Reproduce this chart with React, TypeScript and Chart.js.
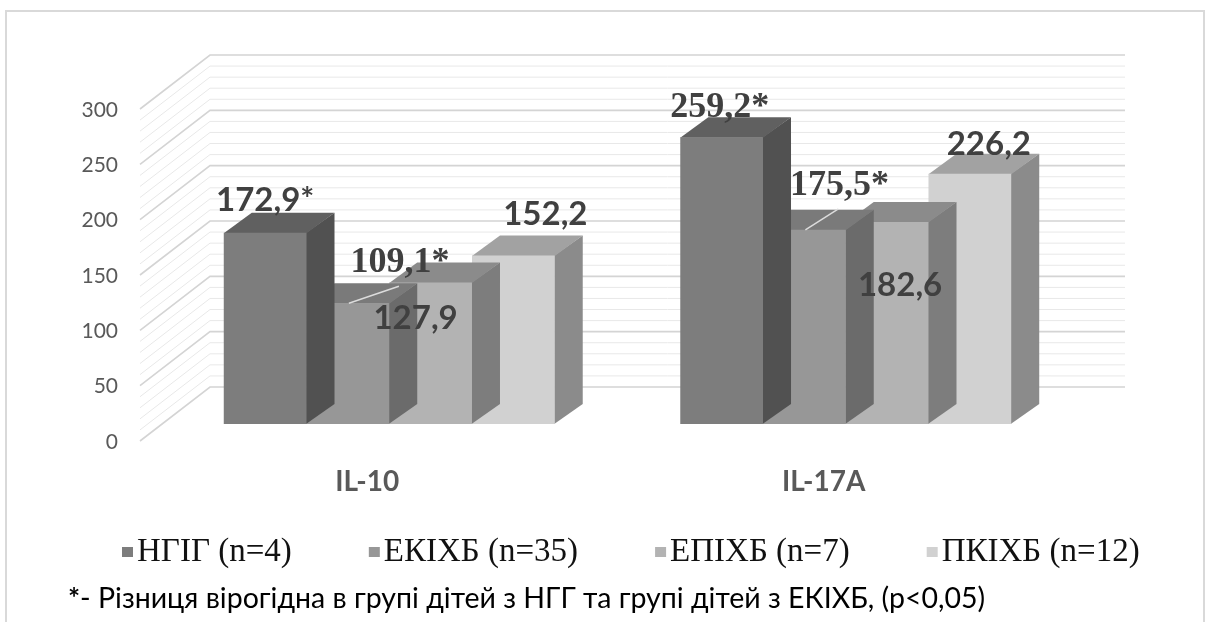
import { useEffect, useRef } from "react";
import { Chart, registerables } from "chart.js";

Chart.register(...registerables);

// ---------- data ----------
const CATEGORIES = ["IL-10", "IL-17A"];
const SERIES_NAMES = ["НГІГ (n=4)", "ЕКІХБ (n=35)", "ЕПІХБ (n=7)", "ПКІХБ (n=12)"];
const NGIG = [172.9, 259.2];
const EKIXB = [109.1, 175.5];
const EPIXB = [127.9, 182.6];
const PKIXB = [152.2, 226.2];
const SIGNIFICANT = [
  [true, true],
  [true, true],
  [false, false],
  [false, false],
];
const Y_MIN = 0;
const Y_MAX = 300;
const Y_STEP = 50;
const Y_MINOR_STEP = 10;
const FOOTNOTE_MARK = "*";
const FOOTNOTE_TEXT = "- Різниця вірогідна в групі дітей з НГГ та групі дітей з ЕКІХБ, (p<0,05)";

// ---------- styles ----------
const FRONT = ["#7d7d7d", "#979797", "#b3b3b3", "#d1d1d1"];
const TOP = ["#606060", "#7a7a7a", "#8b8b8b", "#a2a2a2"];
const SIDE = ["#515151", "#6b6b6b", "#7d7d7d", "#8b8b8b"];
const LABEL_SERIF = [
  [false, true],
  [true, true],
  [false, false],
  [false, false],
];
const LABEL_OFFSETS = [
  [[0, -22], [-2, -20]],
  [[52, -31], [35, -35]],
  [[-15, 47], [13, 74]],
  [[32, -31], [19, -19]],
];
const LEADER = [
  [false, false],
  [true, true],
  [false, false],
  [false, false],
];
const DEPTH_X = 28;
const DEPTH_Y = 20;
const WALL_FRONT_X = 140;
const WALL_BACK_X = 210;
const WALL_RIGHT_X = 1125;
const WALL_FRONT_DY = 17;
const WALL_BACK_DY = -37;
const SANS = "Lato";
const SERIF = '"Liberation Serif"';

const fmt = (v: number, sig: boolean) => v.toFixed(1).replace(".", ",") + (sig ? "*" : "");

const bar3d = {
  id: "bar3d",
  beforeDatasetsDraw(chart: any) {
    const ctx = chart.ctx;
    const ys = chart.scales.y;
    ctx.save();
    for (let v = Y_MIN; v <= Y_MAX; v += Y_MINOR_STEP) {
      const p = ys.getPixelForValue(v);
      const major = v % Y_STEP === 0;
      ctx.strokeStyle = major ? "#d4d4d4" : "#e8e8e8";
      ctx.lineWidth = major ? 1.6 : 1;
      ctx.beginPath();
      ctx.moveTo(WALL_FRONT_X, p + WALL_FRONT_DY);
      ctx.lineTo(WALL_BACK_X, p + WALL_BACK_DY);
      ctx.lineTo(WALL_RIGHT_X, p + WALL_BACK_DY);
      ctx.stroke();
    }
    ctx.restore();
  },
  beforeDatasetDraw(chart: any, args: any) {
    const ctx = chart.ctx;
    const i = args.index;
    ctx.save();
    args.meta.data.forEach((bar: any) => {
      const { x, y, base, width } = bar.getProps(["x", "y", "base", "width"], true);
      const l = x - width / 2;
      const r = x + width / 2;
      ctx.fillStyle = SIDE[i];
      ctx.beginPath();
      ctx.moveTo(r - 0.5, y);
      ctx.lineTo(r + DEPTH_X, y - DEPTH_Y);
      ctx.lineTo(r + DEPTH_X, base - DEPTH_Y);
      ctx.lineTo(r - 0.5, base);
      ctx.closePath();
      ctx.fill();
      ctx.fillStyle = TOP[i];
      ctx.beginPath();
      ctx.moveTo(l, y + 0.5);
      ctx.lineTo(r, y + 0.5);
      ctx.lineTo(r + DEPTH_X, y - DEPTH_Y);
      ctx.lineTo(l + DEPTH_X, y - DEPTH_Y);
      ctx.closePath();
      ctx.fill();
    });
    ctx.restore();
  },
  afterDatasetsDraw(chart: any) {
    const ctx = chart.ctx;
    ctx.save();
    chart.data.datasets.forEach((ds: any, i: number) => {
      const meta = chart.getDatasetMeta(i);
      meta.data.forEach((bar: any, j: number) => {
        const { x, y } = bar.getProps(["x", "y"], true);
        const [dx, dy] = LABEL_OFFSETS[i][j];
        const cx = x + dx;
        const by = y + dy;
        if (LEADER[i][j]) {
          ctx.strokeStyle = "#dcdcdc";
          ctx.lineWidth = 1.5;
          ctx.beginPath();
          ctx.moveTo(x + 1, y);
          ctx.lineTo(cx - 1, by + 14);
          ctx.stroke();
        }
        ctx.fillStyle = "#404040";
        ctx.textAlign = "center";
        ctx.textBaseline = "alphabetic";
        ctx.font = LABEL_SERIF[i][j] ? `bold 36px ${SERIF}` : `bold 33px ${SANS}`;
        ctx.fillText(fmt(ds.data[j], SIGNIFICANT[i][j]), cx, by);
      });
    });
    ctx.restore();
  },
  afterDraw(chart: any) {
    const ctx = chart.ctx;
    ctx.save();
    // outer frame
    ctx.strokeStyle = "#d9d9d9";
    ctx.lineWidth = 2;
    ctx.strokeRect(6, 11, 1198, 700);
    // legend
    ctx.font = `33px ${SERIF}`;
    ctx.textAlign = "left";
    ctx.textBaseline = "alphabetic";
    let lx = 122;
    chart.data.datasets.forEach((ds: any, i: number) => {
      ctx.fillStyle = FRONT[i];
      ctx.fillRect(lx, 547, 11, 10);
      ctx.fillStyle = "#111111";
      ctx.fillText(ds.label, lx + 15, 561);
      lx += 15 + ctx.measureText(ds.label).width + 77;
    });
    // footnote
    ctx.fillStyle = "#000000";
    ctx.font = `bold 28.5px ${SANS}`;
    ctx.fillText(FOOTNOTE_MARK, 68, 608);
    const w = ctx.measureText(FOOTNOTE_MARK).width;
    ctx.font = `28.5px ${SANS}`;
    ctx.fillText(FOOTNOTE_TEXT, 68 + w, 608);
    ctx.restore();
  },
};

export default function App() {
  const ref = useRef<HTMLCanvasElement | null>(null);
  useEffect(() => {
    document.body.style.margin = "0";
    const canvas = ref.current;
    if (!canvas) return;
    const series = [NGIG, EKIXB, EPIXB, PKIXB];
    const chart = new Chart(canvas, {
      type: "bar",
      data: {
        labels: CATEGORIES,
        datasets: series.map((d, i) => ({
          label: SERIES_NAMES[i],
          data: d,
          backgroundColor: FRONT[i],
          borderWidth: 0,
          categoryPercentage: 0.725,
          barPercentage: 1,
        })),
      },
      options: {
        responsive: false,
        animation: false,
        devicePixelRatio: 1,
        layout: { padding: { left: 0, right: 141, top: 92, bottom: 0 } },
        plugins: {
          legend: { display: false },
          tooltip: { enabled: false },
          title: { display: false },
        },
        scales: {
          x: {
            grid: { display: false, drawTicks: false },
            border: { display: false },
            ticks: {
              padding: 41,
              labelOffset: -22,
              color: "#595959",
              font: { family: SANS, size: 28, weight: "bold" },
            },
            afterFit: (s: any) => {
              s.height = 198;
            },
          },
          y: {
            min: Y_MIN,
            max: Y_MAX,
            grid: { display: false, drawTicks: false },
            border: { display: false },
            ticks: {
              stepSize: Y_STEP,
              padding: 43,
              labelOffset: 18,
              color: "#595959",
              font: { family: SANS, size: 21 },
            },
            afterFit: (s: any) => {
              s.width = 161;
            },
          },
        },
      } as any,
      plugins: [bar3d],
    });
    if ((document as any).fonts && (document as any).fonts.ready) {
      (document as any).fonts.ready.then(() => chart.update());
    }
    return () => chart.destroy();
  }, []);
  return (
    <div style={{ width: 1215, height: 622, background: "#ffffff" }}>
      <canvas ref={ref} width={1215} height={622} />
    </div>
  );
}
